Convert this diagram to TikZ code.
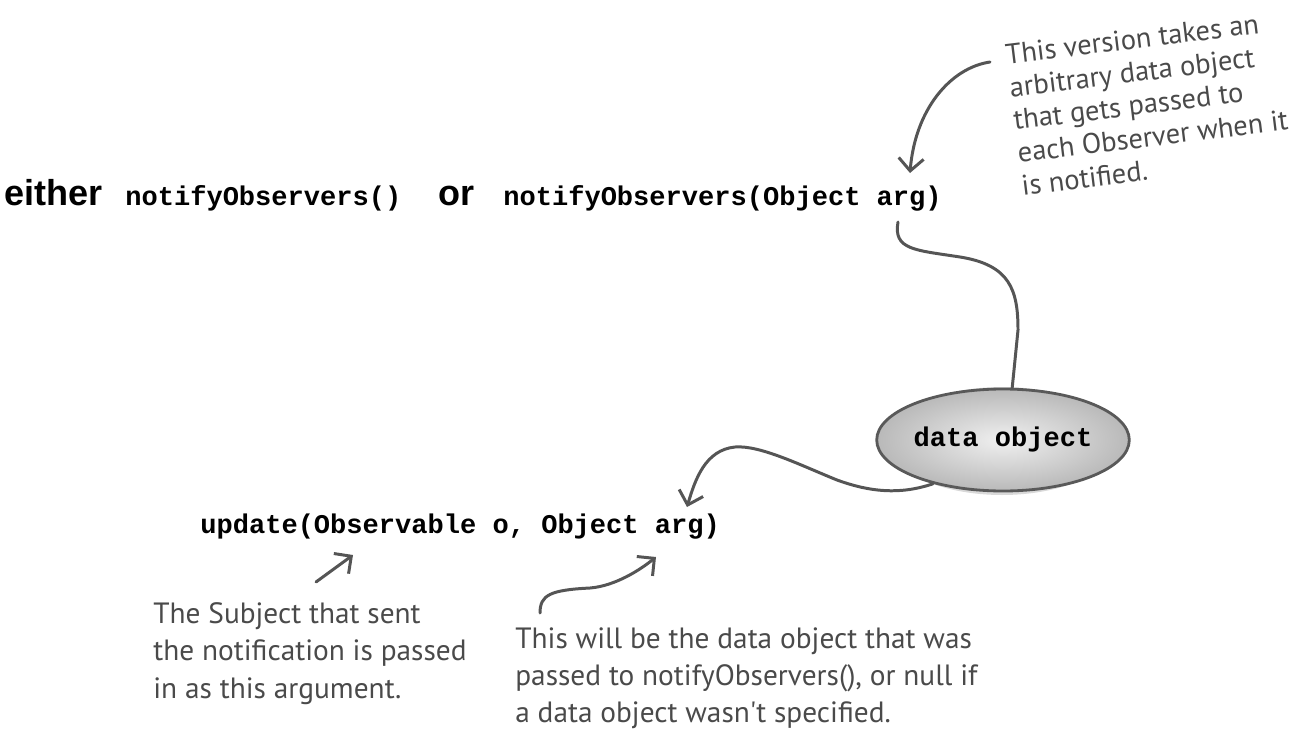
\documentclass[tikz,border=0pt]{standalone}
\usepackage{fontspec}
\usetikzlibrary{shapes.geometric,arrows.meta}
\newfontfamily\codefont{Liberation Mono}
\newfontfamily\labelfont{Liberation Sans}
\newfontfamily\handfont{PT Sans}
\definecolor{ink}{HTML}{555555}
\definecolor{handink}{HTML}{4A4A4A}
\begin{document}
\begin{tikzpicture}[x=0.02cm,y=-0.02cm,
  code/.style={font=\codefont\bfseries\fontsize{15.4}{18}\selectfont, inner sep=0, anchor=base west},
  word/.style={font=\labelfont\bfseries\fontsize{20.5}{24}\selectfont, inner sep=0, anchor=base west},
  note/.style={font=\handfont\fontsize{16.7}{21.3}\selectfont, text=handink, align=left, inner sep=0, anchor=north west},
  pointer/.style={draw=ink, line width=1.7pt, line cap=round, -{Straight Barb[length=2.5mm,width=5mm]}},
  wire/.style={draw=ink, line width=1.7pt, line cap=round},
  blob/.style={ellipse, minimum width=4.4cm, minimum height=2.04cm, inner sep=0,
     inner color=gray!12, outer color=gray!55, draw=black!65, line width=1.6pt,
     font=\codefont\bfseries\fontsize{15.4}{18}\selectfont}]
\useasboundingbox (0,0) rectangle (1295,740);
% top line
\node[word] (either) at (4,205) {either};
\node[code] (nplain) at (125,205) {notifyObservers()};
\node[word] (or) at (438,205) {or};
\node[code] (narg) at (503,205) {notifyObservers(Object arg)};
% data object
\fill[gray!30] (1002,441) ellipse [x radius=114, y radius=54];
\node[blob] (dobj) at (1003,440) {data object};
% update
\node[code] (upd) at (200,533) {update(Observable o, Object arg)};
% notes
\node[note, rotate=7, font=\handfont\fontsize{16.2}{18.8}\selectfont] (tr) at (1004,44)
  {This version takes an\\arbitrary data object\\that gets passed to\\each Observer when it\\is notified.};
\node[note] (subj) at (153,602) {The Subject that sent\\the notification is passed\\in as this argument.};
\node[note] (dat) at (515,627) {This will be the data object that was\\passed to notifyObservers(), or null if\\a data object wasn't specified.};
% connectors
\coordinate (trs) at (990,62);
\coordinate (trt) at (910,173);
\draw[pointer] (trs) .. controls (950,68) and (915,110) .. (trt);
\coordinate (argbelow) at (898,222);
\draw[wire] (argbelow) .. controls (893,250) and (915,250) .. (960,257)
  .. controls (1010,265) and (1018,290) .. (1018,330) -- (dobj.80);
\coordinate (updtip) at (687,507);
\draw[pointer] (dobj.212) .. controls (900,495) and (870,492) .. (837,480)
  .. controls (800,465) and (760,445) .. (735,447)
  .. controls (705,450) and (695,480) .. (updtip);
\coordinate (subs) at (316,582);
\coordinate (subt) at (353,555);
\draw[pointer] (subs) -- (subt);
\coordinate (dats) at (540,613);
\coordinate (datt) at (656,557);
\draw[pointer] (dats) .. controls (540,595) and (550,590) .. (590,588)
  .. controls (615,586) and (640,570) .. (datt);
\end{tikzpicture}
\end{document}
